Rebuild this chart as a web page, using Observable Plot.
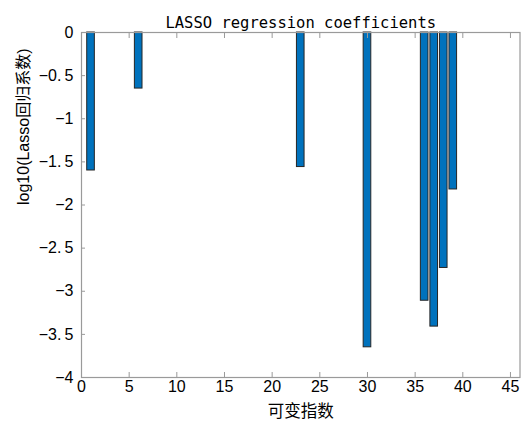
<!DOCTYPE html>
<html>
<head>
<meta charset="utf-8">
<script src="https://cdn.jsdelivr.net/npm/d3@7"></script>
<script src="https://cdn.jsdelivr.net/npm/@observablehq/plot@0.6"></script>
<style>
  html, body { margin: 0; padding: 0; background: #fff; }
</style>
</head>
<body>
<div id="chart"></div>
<script>
const indices = [1, 6, 23, 30, 36, 37, 38, 39];
const values = [-1.60, -0.65, -1.56, -3.65, -3.11, -3.41, -2.73, -1.82];
const xTicks = [0, 5, 10, 15, 20, 25, 30, 35, 40, 45];
const yTicks = [0, -0.5, -1, -1.5, -2, -2.5, -3, -3.5, -4];
const titleText = "LASSO regression coefficients";
const xLabel = "可变指数";
const yLabel = "log10(Lasso回归系数)";

const data = indices.map((i, k) => ({i, v: values[k]}));
const barHalf = 0.4;
const grey = "#9a9a9a";
const tickFont = "'Liberation Sans', Arial, sans-serif";

const fmtY = d => d === 0 ? "0" : (d < 0 ? "\u2212" : "") + String(Math.abs(d)).replace(".", ".\u2009");

const chart = Plot.plot({
  width: 526,
  height: 421,
  marginLeft: 81,
  marginRight: 6.5,
  marginTop: 32,
  marginBottom: 44,
  style: {fontFamily: tickFont, fontSize: "16px", background: "#fff", color: "#000"},
  x: {domain: [0, 46]},
  y: {domain: [-4, 0]},
  marks: [
    Plot.rect(data, {
      x1: d => d.i - barHalf,
      x2: d => d.i + barHalf,
      y1: 0,
      y2: "v",
      fill: "#0072BD",
      stroke: "#262626",
      strokeWidth: 1
    }),
    Plot.frame({stroke: grey, strokeWidth: 1.2}),
    Plot.axisX(xTicks, {anchor: "bottom", tickSize: 0, tickPadding: 3, label: null, fontSize: 16}),
    Plot.axisX(xTicks, {anchor: "bottom", tickSize: -5, text: null, stroke: grey, label: null}),
    Plot.axisX(xTicks, {anchor: "top", tickSize: -5, text: null, stroke: grey, label: null}),
    Plot.axisY(yTicks, {anchor: "left", tickSize: 0, tickPadding: 8, tickFormat: fmtY, label: null, fontSize: 16}),
    Plot.axisY(yTicks, {anchor: "left", tickSize: -4, text: null, stroke: grey, label: null}),
    Plot.text([titleText], {
      frameAnchor: "top", dy: -16, text: d => d,
      fontFamily: "'DejaVu Sans Mono', 'Liberation Mono', monospace",
      fontSize: 15.5, fill: "#000"
    }),
    Plot.text([xLabel], {
      frameAnchor: "bottom", dy: 39, text: d => d,
      fontFamily: "'Noto Sans CJK SC', sans-serif",
      fontSize: 16.5, fill: "#000"
    }),
    Plot.text([yLabel], {
      frameAnchor: "left", dx: -58, rotate: -90, text: d => d,
      fontFamily: "'Liberation Sans', 'Noto Sans CJK SC', sans-serif",
      fontSize: 16, fill: "#000"
    })
  ]
});
document.getElementById("chart").appendChild(chart);
</script>
</body>
</html>
